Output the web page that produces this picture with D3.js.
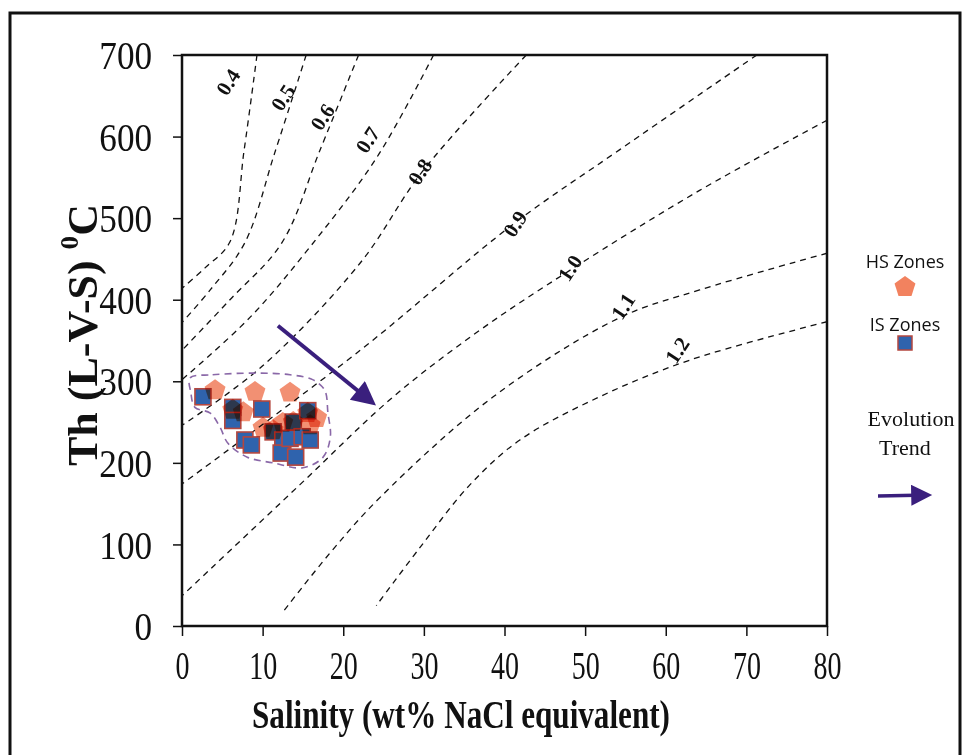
<!DOCTYPE html>
<html>
<head>
<meta charset="utf-8">
<script src="https://cdn.jsdelivr.net/npm/d3@7"></script>
<style>
  body { margin: 0; background: #fff; }
  svg { display: block; }
</style>
</head>
<body>
<div id="chart"></div>
<script>
// axis ticks
const xTicks = [0, 10, 20, 30, 40, 50, 60, 70, 80];
const yTicks = [0, 100, 200, 300, 400, 500, 600, 700];

// isochores: [salinity, Th]
const iso04 = [[9.3, 700], [7.7, 583], [5.95, 471], [2.85, 439], [0, 414]];
const iso05 = [[15.4, 700], [11.5, 580], [7.8, 470], [3.5, 412], [0, 372]];
const iso06 = [[21.9, 700], [17.1, 583], [12.4, 470], [5.95, 400], [0, 338]];
const iso07 = [[31.2, 700], [24.2, 575], [15.9, 465], [8.4, 378], [0, 302]];
const iso08 = [[42.7, 700], [29.8, 557], [22.1, 445], [9.9, 318], [0, 246]];
const iso09 = [[71.3, 700], [54.3, 584], [41.0, 492], [22.1, 338], [0, 174]];
const iso10 = [[80, 620], [64.2, 534], [48.1, 436], [37.0, 363], [26.2, 281], [14.6, 173], [0, 37]];
const iso11 = [[80, 457], [64.2, 412], [54.3, 378], [38.6, 281], [24.6, 158], [18.4, 90], [12.5, 17]];
const iso12 = [[80, 373], [63.0, 326], [51.8, 281], [41.9, 228], [35.7, 173], [29.5, 96], [24.1, 25]];

const isoNames = ["0.4", "0.5", "0.6", "0.7", "0.8", "0.9", "1.0", "1.1", "1.2"];
const isoLabelX = [5.7, 12.5, 17.4, 23.0, 29.5, 41.3, 48.1, 54.7, 61.4];
const isoLabelY = [667, 648, 624, 596, 557, 493, 439, 392, 338];

// HS zones (pentagons)
const hsSalinity = [4.1, 9.05, 13.4, 7.6, 10.05, 12.5, 16.7, 15.9, 6.3, 11.3, 13.8, 15.6];
const hsTemp = [289, 287, 286, 262, 243, 249, 255, 246, 265, 240, 250, 261];

// IS zones (squares)
const isSalinity = [2.6, 6.3, 6.3, 9.9, 7.8, 8.6, 11.3, 13.8, 15.6, 12.5, 12.3, 14.1, 13.4, 14.9, 15.9];
const isTemp = [281, 268, 252, 266, 228, 222, 238, 250, 264, 228, 212, 207, 230, 232, 228];

// dashed envelope around the inclusions
const envelope = [[1.0, 304], [3.8, 308], [9.3, 310], [13.4, 308], [16.2, 302], [17.7, 289],
  [18.1, 261], [18.4, 232], [17.5, 207], [15.0, 194], [11.3, 200], [8.1, 207], [5.7, 224],
  [4.7, 244], [3.5, 261], [1.6, 268], [1.1, 286]];

// evolution trend arrow
const trend = [[11.9, 368], [23.6, 274]];

const width = 968, height = 755;
const x = d3.scaleLinear().domain([0, 80]).range([182, 827]);
const y = d3.scaleLinear().domain([0, 700]).range([626, 55]);

const svg = d3.select("#chart").append("svg")
  .attr("width", width).attr("height", height)
  .attr("viewBox", `0 0 ${width} ${height}`);

// outer frame
svg.append("rect")
  .attr("x", 10).attr("y", 13).attr("width", 950).attr("height", 780)
  .attr("fill", "none").attr("stroke", "#111").attr("stroke-width", 3);

const defs = svg.append("defs");
defs.append("clipPath").attr("id", "plot")
  .append("rect")
  .attr("x", x(0)).attr("y", y(700))
  .attr("width", x(80) - x(0)).attr("height", y(0) - y(700));

defs.append("marker").attr("id", "head")
  .attr("viewBox", "0 0 10 10").attr("refX", 8).attr("refY", 5)
  .attr("markerWidth", 6.5).attr("markerHeight", 6)
  .attr("orient", "auto").attr("markerUnits", "strokeWidth")
  .append("path").attr("d", "M0,0 L10,5 L0,10 Z").attr("fill", "#3a1f7d");

// isochores
const line = d3.line().x(d => x(d[0])).y(d => y(d[1])).curve(d3.curveCatmullRom);
const isos = [iso04, iso05, iso06, iso07, iso08, iso09, iso10, iso11, iso12];
const g = svg.append("g").attr("clip-path", "url(#plot)");
g.selectAll("path.iso").data(isos).join("path")
  .attr("class", "iso")
  .attr("d", line)
  .attr("fill", "none").attr("stroke", "#111")
  .attr("stroke-width", 1.3).attr("stroke-dasharray", "6,5");

svg.selectAll("text.iso").data(isoNames).join("text")
  .attr("class", "iso")
  .attr("transform", (d, i) => `translate(${x(isoLabelX[i])},${y(isoLabelY[i])}) rotate(-57)`)
  .attr("text-anchor", "middle").attr("dy", "0.35em")
  .attr("font-family", "Liberation Serif, serif").attr("font-weight", "bold")
  .attr("font-size", 21).attr("fill", "#111")
  .text(d => d);

// envelope
svg.append("path")
  .datum(envelope)
  .attr("d", d3.line().x(d => x(d[0])).y(d => y(d[1])).curve(d3.curveCatmullRomClosed))
  .attr("fill", "none").attr("stroke", "#8a68a8")
  .attr("stroke-width", 1.6).attr("stroke-dasharray", "7,5");

// pentagon path around 0,0
function pentagon(r) {
  const pts = d3.range(5).map(k => {
    const a = -Math.PI / 2 + k * 2 * Math.PI / 5;
    return [r * Math.cos(a), r * Math.sin(a)];
  });
  return "M" + pts.map(p => p.join(",")).join("L") + "Z";
}

const sq = 16;
svg.selectAll("rect.is").data(isSalinity).join("rect")
  .attr("class", "is")
  .attr("x", (d, i) => x(d) - sq / 2)
  .attr("y", (d, i) => y(isTemp[i]) - sq / 2)
  .attr("width", sq).attr("height", sq)
  .attr("fill", "#2f63ad").attr("stroke", "#b4473f").attr("stroke-width", 1.6);

svg.selectAll("path.hs").data(hsSalinity).join("path")
  .attr("class", "hs")
  .attr("transform", (d, i) => `translate(${x(d)},${y(hsTemp[i])})`)
  .attr("d", pentagon(11))
  .attr("fill", "#ef7450")
  .attr("opacity", 0.8)
  .style("mix-blend-mode", "multiply");

// trend arrow
svg.append("line")
  .attr("x1", x(trend[0][0])).attr("y1", y(trend[0][1]))
  .attr("x2", x(trend[1][0])).attr("y2", y(trend[1][1]))
  .attr("stroke", "#3a1f7d").attr("stroke-width", 4)
  .attr("marker-end", "url(#head)");

// axes
const xAxis = svg.append("g")
  .attr("transform", `translate(0,${y(0)})`)
  .call(d3.axisBottom(x).tickValues(xTicks).tickSize(10).tickSizeOuter(0));
xAxis.select(".domain").remove();
xAxis.selectAll("line").attr("stroke", "#111").attr("stroke-width", 1.5);
xAxis.selectAll("text")
  .attr("y", 53).attr("dy", 0)
  .attr("transform", "scale(0.7,1)")
  .attr("font-family", "Liberation Serif, serif").attr("font-size", 40).attr("fill", "#111");

const yAxis = svg.append("g")
  .attr("transform", `translate(${x(0)},0)`)
  .call(d3.axisLeft(y).tickValues(yTicks).tickSize(9).tickSizeOuter(0));
yAxis.select(".domain").remove();
yAxis.selectAll("line").attr("stroke", "#111").attr("stroke-width", 1.5);
yAxis.selectAll("text")
  .attr("x", -34).attr("dy", "0.34em")
  .attr("transform", "scale(0.88,1)")
  .attr("font-family", "Liberation Serif, serif").attr("font-size", 40).attr("fill", "#111");

// plot frame
svg.append("rect")
  .attr("x", x(0)).attr("y", y(700))
  .attr("width", x(80) - x(0)).attr("height", y(0) - y(700))
  .attr("fill", "none").attr("stroke", "#111").attr("stroke-width", 2.5);

// axis titles
svg.append("text")
  .attr("x", 461).attr("y", 728)
  .attr("text-anchor", "middle")
  .attr("textLength", 418).attr("lengthAdjust", "spacingAndGlyphs")
  .attr("font-family", "Liberation Serif, serif").attr("font-weight", "bold")
  .attr("font-size", 40).attr("fill", "#111")
  .text("Salinity (wt% NaCl equivalent)");

const yt = svg.append("text")
  .attr("transform", "translate(97,335) rotate(-90)")
  .attr("text-anchor", "middle")
  .attr("textLength", 262).attr("lengthAdjust", "spacingAndGlyphs")
  .attr("font-family", "Liberation Serif, serif").attr("font-weight", "bold")
  .attr("font-size", 42).attr("fill", "#111");
yt.append("tspan").text("Th (L-V-S) ");
yt.append("tspan").attr("font-size", 26).attr("dy", -19).text("0");
yt.append("tspan").attr("dy", 19).text("C");

// legend
const leg = svg.append("g");
leg.append("text").attr("x", 905).attr("y", 268).attr("text-anchor", "middle")
  .attr("font-family", "Open Sans, sans-serif").attr("font-size", 18).attr("fill", "#111")
  .text("HS Zones");
leg.append("path").attr("transform", "translate(905,287)").attr("d", pentagon(11))
  .attr("fill", "#f2825f");
leg.append("text").attr("x", 905).attr("y", 331).attr("text-anchor", "middle")
  .attr("font-family", "Open Sans, sans-serif").attr("font-size", 18).attr("fill", "#111")
  .text("IS Zones");
leg.append("rect").attr("x", 898).attr("y", 336).attr("width", 14).attr("height", 14)
  .attr("fill", "#2f63ad").attr("stroke", "#b4473f").attr("stroke-width", 1.5);
leg.append("text").attr("x", 911).attr("y", 426).attr("text-anchor", "middle")
  .attr("font-family", "Liberation Serif, serif").attr("font-size", 22).attr("fill", "#111")
  .text("Evolution");
leg.append("text").attr("x", 905).attr("y", 455).attr("text-anchor", "middle")
  .attr("font-family", "Liberation Serif, serif").attr("font-size", 22).attr("fill", "#111")
  .text("Trend");
leg.append("line").attr("x1", 878).attr("y1", 496).attr("x2", 928).attr("y2", 495)
  .attr("stroke", "#3a1f7d").attr("stroke-width", 3.5)
  .attr("marker-end", "url(#head)");
</script>
</body>
</html>
